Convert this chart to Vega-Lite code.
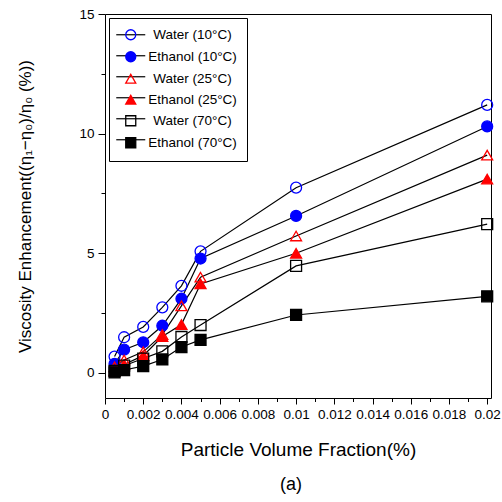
{
  "$schema": "https://vega.github.io/schema/vega-lite/v6.json",
  "width": 386,
  "height": 384,
  "autosize": "none",
  "padding": {"left": 105, "top": 14, "right": 11, "bottom": 104},
  "config": {
    "font": "Liberation Sans",
    "view": {"stroke": "black", "strokeWidth": 1},
    "axis": {"grid": false, "domain": false, "tickColor": "black", "labelColor": "black", "titleColor": "black", "labelFont": "Liberation Sans", "titleFont": "Liberation Sans", "titleFontWeight": "normal"}
  },
  "title": {"text": "(a)", "orient": "bottom", "offset": 16, "fontSize": 18, "fontWeight": "normal", "font": "Liberation Sans", "color": "black", "dx": -7},
  "data": {
    "values": [
      {"series": "Water (10°C)", "fraction": 0.0005, "enhancement": 0.68},
      {"series": "Water (10°C)", "fraction": 0.001, "enhancement": 1.49},
      {"series": "Water (10°C)", "fraction": 0.002, "enhancement": 1.92},
      {"series": "Water (10°C)", "fraction": 0.003, "enhancement": 2.74},
      {"series": "Water (10°C)", "fraction": 0.004, "enhancement": 3.64},
      {"series": "Water (10°C)", "fraction": 0.005, "enhancement": 5.08},
      {"series": "Water (10°C)", "fraction": 0.01, "enhancement": 7.74},
      {"series": "Water (10°C)", "fraction": 0.02, "enhancement": 11.2},
      {"series": "Ethanol (10°C)", "fraction": 0.0005, "enhancement": 0.38},
      {"series": "Ethanol (10°C)", "fraction": 0.001, "enhancement": 0.97},
      {"series": "Ethanol (10°C)", "fraction": 0.002, "enhancement": 1.28},
      {"series": "Ethanol (10°C)", "fraction": 0.003, "enhancement": 1.97},
      {"series": "Ethanol (10°C)", "fraction": 0.004, "enhancement": 3.1},
      {"series": "Ethanol (10°C)", "fraction": 0.005, "enhancement": 4.78},
      {"series": "Ethanol (10°C)", "fraction": 0.01, "enhancement": 6.56},
      {"series": "Ethanol (10°C)", "fraction": 0.02, "enhancement": 10.3},
      {"series": "Water (25°C)", "fraction": 0.0005, "enhancement": 0.25},
      {"series": "Water (25°C)", "fraction": 0.001, "enhancement": 0.54},
      {"series": "Water (25°C)", "fraction": 0.002, "enhancement": 0.88},
      {"series": "Water (25°C)", "fraction": 0.003, "enhancement": 1.6},
      {"series": "Water (25°C)", "fraction": 0.004, "enhancement": 2.8},
      {"series": "Water (25°C)", "fraction": 0.005, "enhancement": 4.0},
      {"series": "Water (25°C)", "fraction": 0.01, "enhancement": 5.72},
      {"series": "Water (25°C)", "fraction": 0.02, "enhancement": 9.1},
      {"series": "Ethanol (25°C)", "fraction": 0.0005, "enhancement": 0.08},
      {"series": "Ethanol (25°C)", "fraction": 0.001, "enhancement": 0.35},
      {"series": "Ethanol (25°C)", "fraction": 0.002, "enhancement": 0.72},
      {"series": "Ethanol (25°C)", "fraction": 0.003, "enhancement": 1.52},
      {"series": "Ethanol (25°C)", "fraction": 0.004, "enhancement": 2.02},
      {"series": "Ethanol (25°C)", "fraction": 0.005, "enhancement": 3.72},
      {"series": "Ethanol (25°C)", "fraction": 0.01, "enhancement": 5.0},
      {"series": "Ethanol (25°C)", "fraction": 0.02, "enhancement": 8.1},
      {"series": "Water (70°C)", "fraction": 0.0005, "enhancement": 0.08},
      {"series": "Water (70°C)", "fraction": 0.001, "enhancement": 0.3},
      {"series": "Water (70°C)", "fraction": 0.002, "enhancement": 0.6},
      {"series": "Water (70°C)", "fraction": 0.003, "enhancement": 0.9},
      {"series": "Water (70°C)", "fraction": 0.004, "enhancement": 1.5},
      {"series": "Water (70°C)", "fraction": 0.005, "enhancement": 2.0},
      {"series": "Water (70°C)", "fraction": 0.01, "enhancement": 4.47},
      {"series": "Water (70°C)", "fraction": 0.02, "enhancement": 6.22},
      {"series": "Ethanol (70°C)", "fraction": 0.0005, "enhancement": 0.02},
      {"series": "Ethanol (70°C)", "fraction": 0.001, "enhancement": 0.12},
      {"series": "Ethanol (70°C)", "fraction": 0.002, "enhancement": 0.28},
      {"series": "Ethanol (70°C)", "fraction": 0.003, "enhancement": 0.56},
      {"series": "Ethanol (70°C)", "fraction": 0.004, "enhancement": 1.08},
      {"series": "Ethanol (70°C)", "fraction": 0.005, "enhancement": 1.38},
      {"series": "Ethanol (70°C)", "fraction": 0.01, "enhancement": 2.42},
      {"series": "Ethanol (70°C)", "fraction": 0.02, "enhancement": 3.2}
    ]
  },
  "layer": [
    {
      "mark": {"type": "line", "strokeWidth": 1.2},
      "encoding": {
        "x": {
          "field": "fraction", "type": "quantitative",
          "scale": {"domain": [0, 0.0202], "nice": false, "zero": false},
          "axis": {"orient": "bottom", "values": [0, 0.002, 0.004, 0.006, 0.008, 0.01, 0.012, 0.014, 0.016, 0.018, 0.02], "format": "~g", "tickSize": 6, "labelFontSize": 13.5, "labelPadding": 3, "labelFlush": false, "labelOverlap": false, "title": "Particle Volume Fraction(%)", "titleFontSize": 19, "titlePadding": 20}
        },
        "y": {
          "field": "enhancement", "type": "quantitative",
          "scale": {"domain": [-1.05, 15], "nice": false, "zero": false},
          "axis": {"orient": "left", "values": [0, 5, 10, 15], "tickSize": 7, "labelFontSize": 13.5, "labelPadding": 4, "title": "Viscosity Enhancement((η₁−η₀)/η₀  (%))", "titleFontSize": 17, "titlePadding": 44}
        },
        "color": {
          "field": "series", "type": "nominal", "sort": null,
          "scale": {"range": ["black", "black", "black", "black", "black", "black"]},
          "legend": {"orient": "none", "legendX": 4, "legendY": 4, "title": null, "padding": 10, "symbolType": "M-2.9,0H2.9", "symbolSize": 100, "symbolOffset": 5, "symbolStrokeWidth": 1.2, "symbolStrokeColor": "black", "labelOffset": 55, "labelAlign": "center", "labelExpr": "' '", "labelFontSize": 13.5, "labelFont": "Liberation Sans", "labelColor": "transparent", "rowPadding": 6}
        }
      }
    },
    {
      "mark": {"type": "point", "size": 120, "strokeWidth": 1.3, "opacity": 1},
      "encoding": {
        "x": {
          "field": "fraction", "type": "quantitative",
          "axis": {"orient": "bottom", "values": [0.001, 0.003, 0.005, 0.007, 0.009, 0.011, 0.013, 0.015, 0.017, 0.019], "tickSize": 3.5, "labels": false, "title": null}
        },
        "y": {
          "field": "enhancement", "type": "quantitative",
          "axis": {"orient": "left", "values": [2.5, 7.5, 12.5], "tickSize": 4, "labels": false, "title": null}
        },
        "shape": {
          "field": "series", "type": "nominal",
          "scale": {"domain": ["Water (10°C)", "Ethanol (10°C)", "Water (25°C)", "Ethanol (25°C)", "Water (70°C)", "Ethanol (70°C)"], "range": ["circle", "circle", "triangle-up", "triangle-up", "square", "square"]},
          "legend": {"orient": "none", "legendX": 4, "legendY": 4, "title": null, "padding": 10, "strokeColor": "black", "symbolSize": 100, "symbolOffset": 5, "symbolStrokeWidth": 1.3, "labelOffset": 55, "labelAlign": "center", "labelFontSize": 13.5, "labelFont": "Liberation Sans", "labelColor": "black", "rowPadding": 6}
        },
        "fill": {
          "field": "series", "type": "nominal",
          "scale": {"domain": ["Water (10°C)", "Ethanol (10°C)", "Water (25°C)", "Ethanol (25°C)", "Water (70°C)", "Ethanol (70°C)"], "range": ["transparent", "#0000ff", "transparent", "#ff0000", "transparent", "#000000"]},
          "legend": {"orient": "none", "legendX": 4, "legendY": 4, "title": null, "padding": 10, "strokeColor": "black", "symbolSize": 100, "symbolOffset": 5, "symbolStrokeWidth": 1.3, "labelOffset": 55, "labelAlign": "center", "labelFontSize": 13.5, "labelFont": "Liberation Sans", "labelColor": "black", "rowPadding": 6}
        },
        "stroke": {
          "field": "series", "type": "nominal",
          "scale": {"domain": ["Water (10°C)", "Ethanol (10°C)", "Water (25°C)", "Ethanol (25°C)", "Water (70°C)", "Ethanol (70°C)"], "range": ["#0000ff", "#0000ff", "#ff0000", "#ff0000", "#000000", "#000000"]},
          "legend": {"orient": "none", "legendX": 4, "legendY": 4, "title": null, "padding": 10, "strokeColor": "black", "symbolSize": 100, "symbolOffset": 5, "symbolStrokeWidth": 1.3, "labelOffset": 55, "labelAlign": "center", "labelFontSize": 13.5, "labelFont": "Liberation Sans", "labelColor": "black", "rowPadding": 6}
        }
      }
    }
  ],
  "resolve": {"axis": {"x": "independent", "y": "independent"}}
}
